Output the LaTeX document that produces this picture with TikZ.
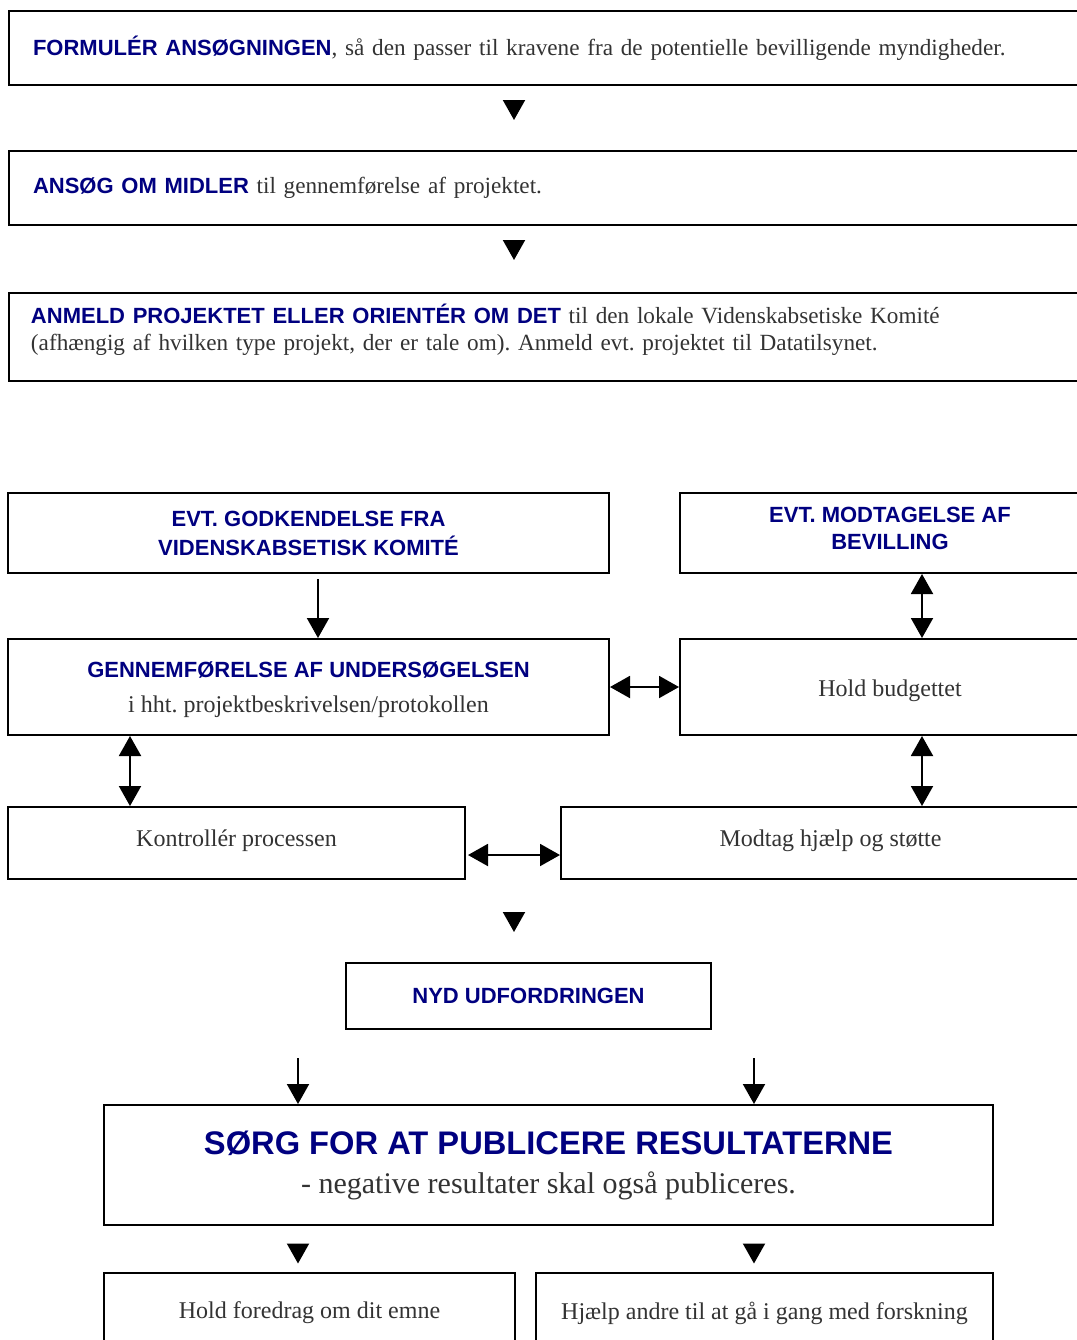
\documentclass[tikz,border=0pt]{standalone}
\usepackage{fontspec}
\setmainfont{Liberation Serif}
\setsansfont{Liberation Sans}
\usetikzlibrary{arrows.meta,positioning}
\definecolor{navy}{HTML}{000080}
\definecolor{textgray}{HTML}{333333}
\newdimen\pxu \pxu=0.75pt
\newcommand\hd[1]{{\sffamily\bfseries\color{navy}#1}}
\frenchspacing
\tikzset{
  box/.style={draw, line width=1.5pt, text=textgray, inner sep=0pt,
    font=\fontsize{18}{20.25}\selectfont},
  stepbox/.style={box, anchor=west, align=left, text width=1050\pxu, inner xsep=24\pxu,
    font=\fontsize{17.4}{20.25}\selectfont},
  midbox/.style={box, align=center},
  headbox/.style={midbox, text=navy, font=\fontsize{16.5}{21.75}\sffamily\bfseries},
  tri/.style={-{Triangle[length=15pt,width=16.5pt]}, line width=1.5pt},
  dbl/.style={{Triangle[length=15pt,width=16.5pt]}-{Triangle[length=15pt,width=16.5pt]}, line width=1.5pt},
}
\begin{document}
\begin{tikzpicture}[x=0.75pt, y=-0.75pt]
    \clip (0,0) rectangle (1077,1340);
    \fill[white] (0,0) rectangle (1077,1340);
    % steps before the study
    \node[stepbox, minimum height=74\pxu] (formuler) at (8,48)
        {\hd{\fontsize{16.5}{20}\selectfont FORMULÉR ANSØGNINGEN}, så den passer til kravene fra de potentielle bevilligende myndigheder.};
    \node[stepbox, minimum height=74\pxu] (ansoeg) at (8,188)
        {\hd{\fontsize{16.5}{20}\selectfont ANSØG OM MIDLER} til gennemførelse af projektet.};
    \node[stepbox, minimum height=88\pxu, inner xsep=22\pxu, text height=12pt, text depth=31.6pt] (anmeld) at (8,337)
        {\hd{\fontsize{16.5}{20}\selectfont ANMELD PROJEKTET ELLER ORIENTÉR OM DET} til den lokale Videnskabsetiske Komité\\
         (afhængig af hvilken type projekt, der er tale om). Anmeld evt. projektet til Datatilsynet.};
    % the study itself
    \node[headbox, minimum width=601\pxu, minimum height=80\pxu] (godkend) at (308.5,533)
        {EVT. GODKENDELSE FRA\\VIDENSKABSETISK KOMITÉ};
    \node[headbox, minimum width=420\pxu, minimum height=80\pxu, text depth=7pt,
          font=\fontsize{16.5}{20.25}\sffamily\bfseries] (bevilling) at (890,533)
        {EVT. MODTAGELSE AF\\BEVILLING};
    \node[midbox, minimum width=601\pxu, minimum height=96\pxu, text depth=0pt] (gennem) at (308.5,687)
        {\hd{\fontsize{16.5}{20}\selectfont GENNEMFØRELSE AF UNDERSØGELSEN}\\[6pt]
         i hht. projektbeskrivelsen/protokollen};
    \node[midbox, minimum width=420\pxu, minimum height=96\pxu, text height=18pt] (budget) at (890,687) {Hold budgettet};
    \node[midbox, minimum width=457\pxu, minimum height=72\pxu, text depth=7pt] (kontrol) at (236.5,843) {Kontrollér processen};
    \node[midbox, minimum width=539\pxu, minimum height=72\pxu, text depth=7pt] (hjaelp) at (830.5,843) {Modtag hjælp og støtte};
    % afterwards
    \node[headbox, minimum width=365\pxu, minimum height=66\pxu] (nyd) at (528.5,996) {NYD UDFORDRINGEN};
    \node[midbox, minimum width=889\pxu, minimum height=120\pxu] (publicer) at (548.5,1165)
        {\hd{\fontsize{24.5}{28}\selectfont SØRG FOR AT PUBLICERE RESULTATERNE}\\[9pt]
         {\fontsize{22.5}{26}\selectfont - negative resultater skal også publiceres.}};
    \node[midbox, minimum width=411\pxu, minimum height=87\pxu, text depth=8.4pt] (foredrag) at (309.5,1316)
        {Hold foredrag om dit emne};
    \node[midbox, minimum width=457\pxu, minimum height=87\pxu, text depth=8.4pt] (andre) at (764.5,1316)
        {Hjælp andre til at gå i gang med forskning};
    % columns for the arrows
    \coordinate (mx) at (514,0);
    \coordinate (lx) at (130,0);
    \coordinate (rx) at (922,0);
    \coordinate (kl) at (298,0);
    \coordinate (kr) at (754,0);
    \draw[tri, shorten <=14\pxu, shorten >=30\pxu] (formuler.south -| mx) -- (ansoeg.north -| mx);
    \draw[tri, shorten <=15\pxu, shorten >=32\pxu] (ansoeg.south -| mx) -- (anmeld.north -| mx);
    \draw[tri, shorten <=5\pxu] ([xshift=9.5\pxu]godkend.south) -- ([xshift=9.5\pxu]gennem.north);
    \draw[dbl] (bevilling.south -| rx) -- (budget.north -| rx);
    \draw[dbl] (gennem.east) -- (budget.west);
    \draw[dbl] (gennem.south -| lx) -- (kontrol.north -| lx);
    \draw[dbl] (budget.south -| rx) -- (hjaelp.north -| rx);
    \draw[dbl, shorten <=2\pxu] ([yshift=-12\pxu]kontrol.east) -- ([yshift=-12\pxu]hjaelp.west);
    \draw[tri, shorten <=33\pxu, shorten >=30\pxu] (kontrol.south -| mx) -- (nyd.north -| mx);
    \draw[tri, shorten <=28\pxu] (nyd.south -| kl) -- (publicer.north -| kl);
    \draw[tri, shorten <=28\pxu] (nyd.south -| kr) -- (publicer.north -| kr);
    \draw[tri, shorten <=20\pxu, shorten >=8\pxu] (publicer.south -| kl) -- (foredrag.north -| kl);
    \draw[tri, shorten <=20\pxu, shorten >=8\pxu] (publicer.south -| kr) -- (andre.north -| kr);
\end{tikzpicture}
\end{document}
